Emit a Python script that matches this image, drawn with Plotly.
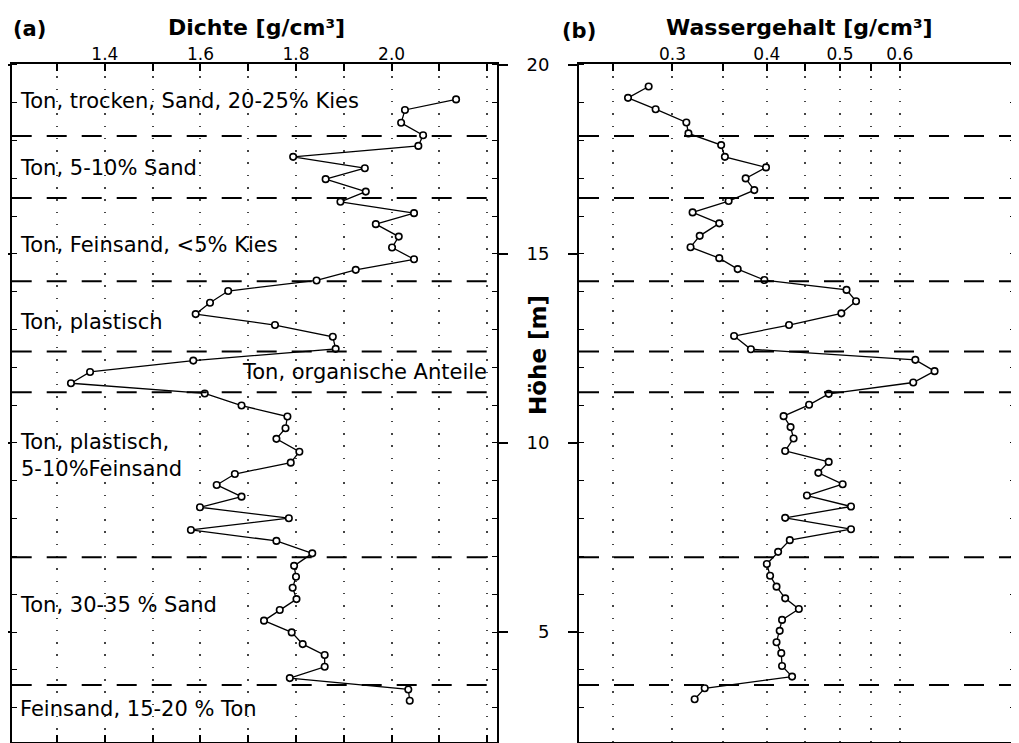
import plotly.graph_objects as go

# ---------------- data ----------------
# (a) Dichte [g/cm3] over height [m]
hoehe_a = [19.09, 18.81, 18.47, 18.14, 17.86, 17.57, 17.27, 16.98, 16.65, 16.38,
           16.08, 15.79, 15.46, 15.17, 14.86, 14.58, 14.30, 14.02, 13.71, 13.41,
           13.12, 12.81, 12.49, 12.18, 11.88, 11.58, 11.31, 10.99, 10.70, 10.39,
           10.11, 9.77, 9.48, 9.18, 8.89, 8.58, 8.30, 8.01, 7.70, 7.41,
           7.08, 6.75, 6.46, 6.17, 5.87, 5.58, 5.30, 4.99, 4.68, 4.39,
           4.08, 3.78, 3.48, 3.18]
dichte = [2.135, 2.028, 2.020, 2.066, 2.056, 1.794, 1.944, 1.862, 1.946, 1.893,
          2.047, 1.967, 2.015, 2.001, 2.047, 1.925, 1.843, 1.658, 1.620, 1.590,
          1.756, 1.877, 1.883, 1.585, 1.369, 1.329, 1.609, 1.686, 1.782, 1.778,
          1.759, 1.807, 1.789, 1.672, 1.634, 1.686, 1.599, 1.785, 1.580, 1.759,
          1.834, 1.796, 1.800, 1.793, 1.801, 1.766, 1.733, 1.791, 1.814, 1.860,
          1.860, 1.787, 2.035, 2.038]

# (b) Wassergehalt [g/cm3] over height [m]
hoehe_b = [19.43, 19.13, 18.83, 18.48, 18.19, 17.88, 17.57, 17.29, 17.00, 16.69,
           16.40, 16.10, 15.81, 15.48, 15.18, 14.89, 14.60, 14.31, 14.05, 13.75,
           13.43, 13.12, 12.83, 12.48, 12.20, 11.90, 11.60, 11.30, 11.01, 10.71,
           10.42, 10.12, 9.79, 9.50, 9.21, 8.91, 8.61, 8.32, 8.02, 7.72,
           7.43, 7.12, 6.80, 6.49, 6.20, 5.89, 5.61, 5.32, 5.03, 4.73,
           4.44, 4.10, 3.82, 3.51, 3.22]
wasser = [0.279, 0.262, 0.285, 0.313, 0.315, 0.348, 0.352, 0.399, 0.375, 0.385,
          0.356, 0.319, 0.346, 0.326, 0.317, 0.346, 0.366, 0.397, 0.510, 0.525,
          0.502, 0.428, 0.362, 0.381, 0.629, 0.667, 0.625, 0.483, 0.455, 0.421,
          0.430, 0.434, 0.423, 0.483, 0.468, 0.504, 0.452, 0.517, 0.423, 0.517,
          0.429, 0.414, 0.400, 0.404, 0.412, 0.423, 0.441, 0.419, 0.416, 0.412,
          0.418, 0.419, 0.432, 0.331, 0.321]

# layer boundaries [m]
grenzen = [18.12, 16.48, 14.28, 12.42, 11.34, 6.98, 3.60]

# layer descriptions and their heights [m]
schicht_text = ["Ton, trocken, Sand, 20-25% Kies", "Ton, 5-10% Sand",
                "Ton, Feinsand, <5% Kies", "Ton, plastisch",
                "Ton, plastisch,<br>5-10%Feinsand", "Ton, 30-35 % Sand",
                "Feinsand, 15-20 % Ton"]
schicht_hoehe = [19.06, 17.27, 15.24, 13.21, 9.68, 5.71, 2.95]
organisch_text = "Ton, organische Anteile"
organisch_hoehe = 11.89

# axis ticks
dichte_ticks = [1.3, 1.4, 1.5, 1.6, 1.7, 1.8, 1.9, 2.0, 2.1, 2.2]
dichte_labels = ["", "1.4", "", "1.6", "", "1.8", "", "2.0", "", ""]
wasser_ticks = [0.25, 0.3, 0.35, 0.4, 0.45, 0.5, 0.55, 0.6]
wasser_labels = ["", "0.3", "", "0.4", "", "0.5", "", "0.6"]

# ---------------- figure ----------------
# the page body adds an 8px margin, so the figure is laid out 8px smaller
OFF = 8
W, H = 1019 - OFF, 743 - OFF
FONT = "DejaVu Sans"


def px_x(p):
    return (p - OFF) / W


def px_y(p):
    return 1 - (p - OFF) / H


fig = go.Figure()

line_style = dict(color="black", width=1.3)
marker_style = dict(symbol="circle", size=6.5, color="white",
                    line=dict(color="black", width=1.6))

fig.add_trace(go.Scatter(x=dichte, y=hoehe_a, mode="lines+markers",
                         line=line_style, marker=marker_style,
                         xaxis="x", yaxis="y", showlegend=False))
fig.add_trace(go.Scatter(x=wasser, y=hoehe_b, mode="lines+markers",
                         line=line_style, marker=marker_style,
                         xaxis="x2", yaxis="y2", showlegend=False))

y_dom = [px_y(742), px_y(64)]
y_range = [2.09, 20.026]

grid_kw = dict(showgrid=True, gridcolor="#444444", gridwidth=1.5,
               griddash="1.5px,10.8px")

common_y = dict(range=y_range, domain=y_dom, tickmode="linear", tick0=0, dtick=5,
                ticks="outside", ticklen=9, tickwidth=1.5, tickcolor="black",
                showline=True, linecolor="black", linewidth=1.8,
                mirror="allticks", showgrid=False, zeroline=False,
                automargin=False,
                minor=dict(ticks="inside", tickmode="linear", tick0=0, dtick=1,
                           ticklen=5, tickwidth=1.2, tickcolor="black",
                           showgrid=False))

fig.update_layout(
    width=W, height=H,
    margin=dict(l=0, r=0, t=0, b=0, pad=0, autoexpand=False),
    paper_bgcolor="white", plot_bgcolor="white",
    font=dict(family=FONT, color="black"),
    xaxis=dict(domain=[px_x(11.7), px_x(496.7)], range=[1.205, 2.22],
               anchor="y", side="top", automargin=False,
               tickmode="array", tickvals=dichte_ticks, ticktext=dichte_labels,
               ticks="inside", ticklen=7, tickwidth=1.5, tickcolor="black",
               tickfont=dict(size=17, family=FONT), ticklabelstandoff=-5,
               showline=True, linecolor="black", linewidth=1.8,
               mirror="allticks", zeroline=False, **grid_kw),
    yaxis=dict(anchor="x", side="right", showticklabels=False, **common_y),
    xaxis2=dict(domain=[px_x(579), px_x(1015)], type="log",
                range=[-0.6466, -0.0694], anchor="y2", side="top",
                automargin=False,
                tickmode="array", tickvals=wasser_ticks, ticktext=wasser_labels,
                ticks="inside", ticklen=7, tickwidth=1.5, tickcolor="black",
                tickfont=dict(size=17, family=FONT), ticklabelstandoff=-5,
                showline=True, linecolor="black", linewidth=1.8,
                mirror=True, zeroline=False, **grid_kw),
    yaxis2=dict(anchor="x2", side="left", showticklabels=True,
                tickfont=dict(size=18, family=FONT),
                ticklabelstandoff=15, **common_y),
)

# layer boundaries (dashed) in both panels
for h in grenzen:
    for xr, yr in (("x domain", "y"), ("x2 domain", "y2")):
        fig.add_shape(type="line", xref=xr, yref=yr, x0=0, x1=1, y0=h, y1=h,
                      line=dict(color="black", width=2, dash="20px,15px"))

# layer labels
for txt, h in zip(schicht_text, schicht_hoehe):
    fig.add_annotation(text=txt, xref="x domain", yref="y", x=0.012, y=h,
                       xanchor="left", yanchor="middle", align="left",
                       showarrow=False, font=dict(size=21, family=FONT))
fig.add_annotation(text=organisch_text, xref="x domain", yref="y", x=0.985,
                   y=organisch_hoehe, xanchor="right", yanchor="middle",
                   showarrow=False, font=dict(size=21, family=FONT))

# titles
titles = [("<b>(a)</b>", 11, 29, "left", 21),
          ("<b>Dichte [g/cm³]</b>", 256, 27, "center", 22),
          ("<b>(b)</b>", 560, 31, "left", 21),
          ("<b>Wassergehalt [g/cm³]</b>", 799, 27, "center", 22)]
for txt, xp, yp, xa, fs in titles:
    fig.add_annotation(text=txt, xref="paper", yref="paper", x=px_x(xp),
                       y=px_y(yp), xanchor=xa, yanchor="middle",
                       showarrow=False, font=dict(size=fs, family=FONT))

fig.add_annotation(text="<b>Höhe [m]</b>", xref="paper", yref="paper",
                   x=px_x(538), y=px_y(355), textangle=-90,
                   xanchor="center", yanchor="middle", showarrow=False,
                   font=dict(size=23, family=FONT))

fig.write_html("out.html")
